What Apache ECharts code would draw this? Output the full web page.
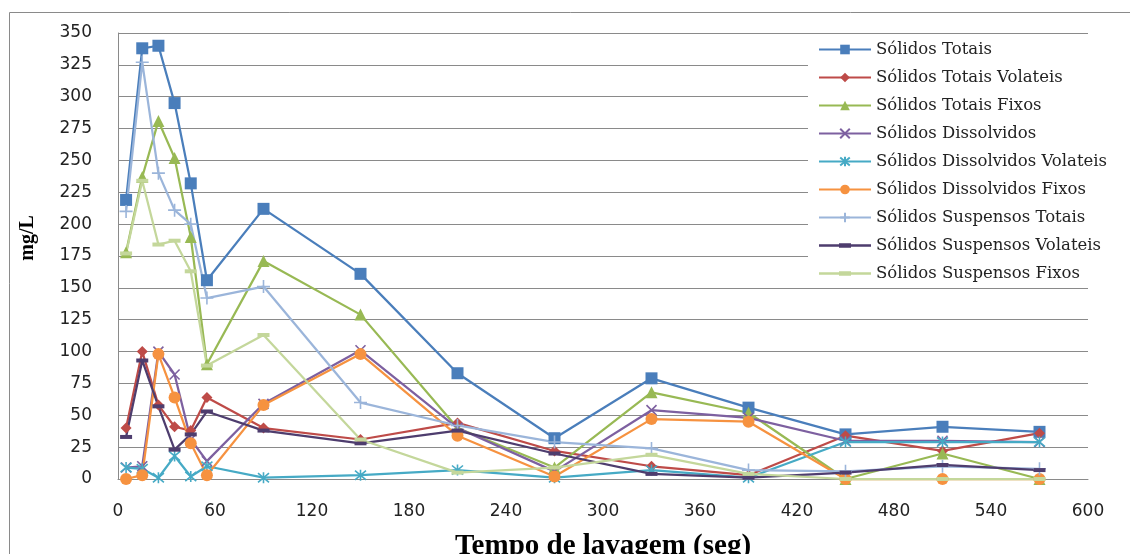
<!DOCTYPE html>
<html style="height: 100%">
<head>
    <meta charset="utf-8">
</head>
<body style="height: 100%; margin: 0; background: #fff">
<div id="container" style="width: 1130px; height: 554px"></div>
<script src="https://cdn.jsdelivr.net/npm/echarts@6/dist/echarts.min.js"></script>
<script>
    // tempo de lavagem (seg)
    var tempos = [5, 15, 25, 35, 45, 55, 90, 150, 210, 270, 330, 390, 450, 510, 570];

    var solidosTotais = [219, 338, 340, 295, 232, 156, 212, 161, 83, 32, 79, 56, 35, 41, 37];
    var totaisVolateis = [40, 100, 58, 41, 38, 64, 40, 31, 44, 22, 10, 3, 34, 22, 36];
    var totaisFixos = [178, 237, 281, 252, 190, 90, 171, 129, 40, 9, 68, 52, 0, 20, 0];
    var dissolvidos = [9, 10, 100, 82, 31, 14, 59, 101, 40, 6, 54, 48, 30, 30, 29];
    var dissolvidosVolateis = [9, 8, 1, 18, 2, 10, 1, 3, 7, 1, 7, 1, 29, 29, 29];
    var dissolvidosFixos = [0, 3, 98, 64, 28, 3, 58, 98, 34, 2, 47, 45, 0, 0, 0];
    var suspensosTotais = [210, 327, 240, 211, 200, 142, 151, 60, 42, 29, 24, 7, 6, 10, 8];
    var suspensosVolateis = [33, 93, 57, 23, 35, 53, 38, 28, 38, 20, 4, 1, 5, 11, 7];
    var suspensosFixos = [177, 234, 184, 187, 163, 89, 113, 31, 5, 9, 19, 4, 0, 0, 0];

    var yTicks = [0, 25, 50, 75, 100, 125, 150, 175, 200, 225, 250, 275, 300, 325, 350];
    var xTicks = [0, 60, 120, 180, 240, 300, 360, 420, 480, 540, 600];

    function pares(vals) {
        var out = [];
        for (var i = 0; i < tempos.length; i++) {
            out.push([tempos[i], vals[i]]);
        }
        return out;
    }

    var simboloX = 'path://M0,0L10,10M10,0L0,10';
    var asterisco = 'path://M0,0L10,10M10,0L0,10M5,-1L5,11';
    var mais = 'path://M6,0L6,12M0,6L12,6';
    // icone da legenda para as series com marcador de traco
    var tracoLegenda = 'path://M0,1h52v2.5h-52z M20,0h12v4.5h-12z';

    function serie(nome, vals, cor, simbolo, tamanho, vazado) {
        return {
            name: nome,
            type: 'line',
            data: pares(vals),
            symbol: simbolo,
            symbolSize: tamanho,
            showAllSymbol: true,
            clip: false,
            lineStyle: {color: cor, width: 2.25},
            itemStyle: vazado ? {color: cor, borderColor: cor, borderWidth: 1.6}
                              : {color: cor, borderColor: cor, borderWidth: 0},
            emphasis: {disabled: true}
        };
    }

    var dom = document.getElementById("container");
    var myChart = echarts.init(dom);

    var option = {
        animation: false,
        backgroundColor: '#fff',
        graphic: [{
            type: 'rect',
            shape: {x: 9.5, y: 12.5, width: 1140, height: 600},
            style: {fill: 'none', stroke: '#8a8a8a', lineWidth: 1},
            silent: true
        }],
        grid: {
            left: 118,
            right: 42,
            top: 33,
            bottom: 75,
            outerBoundsMode: 'none'
        },
        legend: {
            orient: 'vertical',
            left: 808,
            top: 35,
            padding: [6, 10, 6, 10],
            backgroundColor: '#fff',
            itemWidth: 52,
            itemHeight: 12,
            itemGap: 11,
            textStyle: {
                fontFamily: 'DejaVu Serif',
                fontSize: 16.5,
                lineHeight: 16,
                color: '#222'
            },
            data: ['Sólidos Totais', 'Sólidos Totais Volateis', 'Sólidos Totais Fixos',
                'Sólidos Dissolvidos', 'Sólidos Dissolvidos Volateis', 'Sólidos Dissolvidos Fixos',
                'Sólidos Suspensos Totais',
                {name: 'Sólidos Suspensos Volateis', icon: tracoLegenda},
                {name: 'Sólidos Suspensos Fixos', icon: tracoLegenda}]
        },
        xAxis: {
            type: 'value',
            min: xTicks[0],
            max: xTicks[xTicks.length - 1],
            interval: 60,
            name: 'Tempo de lavagem (seg)',
            nameLocation: 'middle',
            nameGap: 53,
            nameTextStyle: {
                fontFamily: 'Liberation Serif',
                fontWeight: 'bold',
                fontSize: 29,
                color: '#000'
            },
            axisLine: {show: true, lineStyle: {color: '#8a8a8a', width: 1}},
            axisTick: {show: false},
            splitLine: {show: false},
            axisLabel: {
                margin: 24,
                fontFamily: 'DejaVu Sans',
                fontSize: 17,
                color: '#222'
            }
        },
        yAxis: {
            type: 'value',
            min: yTicks[0],
            max: yTicks[yTicks.length - 1],
            interval: 25,
            name: 'mg/L',
            nameLocation: 'middle',
            nameGap: 80,
            nameRotate: 90,
            nameTextStyle: {
                fontFamily: 'Liberation Serif',
                fontWeight: 'bold',
                fontSize: 20,
                color: '#000',
                padding: [0, 0, 0, 36]
            },
            axisLine: {show: true, lineStyle: {color: '#8a8a8a', width: 1}},
            axisTick: {show: false},
            splitLine: {show: true, lineStyle: {color: '#8a8a8a', width: 1}},
            axisLabel: {
                margin: 26,
                fontFamily: 'DejaVu Sans',
                fontSize: 17,
                color: '#222'
            }
        },
        series: [
            serie('Sólidos Totais', solidosTotais, '#4A7EBB', 'rect', 12),
            serie('Sólidos Totais Volateis', totaisVolateis, '#BE4B48', 'diamond', 11),
            serie('Sólidos Totais Fixos', totaisFixos, '#98B954', 'triangle', 12),
            serie('Sólidos Dissolvidos', dissolvidos, '#7D60A0', simboloX, 10, true),
            serie('Sólidos Dissolvidos Volateis', dissolvidosVolateis, '#46AAC5', asterisco, 11, true),
            serie('Sólidos Dissolvidos Fixos', dissolvidosFixos, '#F69240', 'circle', 12),
            serie('Sólidos Suspensos Totais', suspensosTotais, '#9BB5DA', mais, 13, true),
            serie('Sólidos Suspensos Volateis', suspensosVolateis, '#4E3D6E', 'rect', [12, 4]),
            serie('Sólidos Suspensos Fixos', suspensosFixos, '#C4D79B', 'rect', [12, 4])
        ]
    };

    if (option && typeof option === "object") {
        myChart.setOption(option, true);
    }
</script>
</body>
</html>
